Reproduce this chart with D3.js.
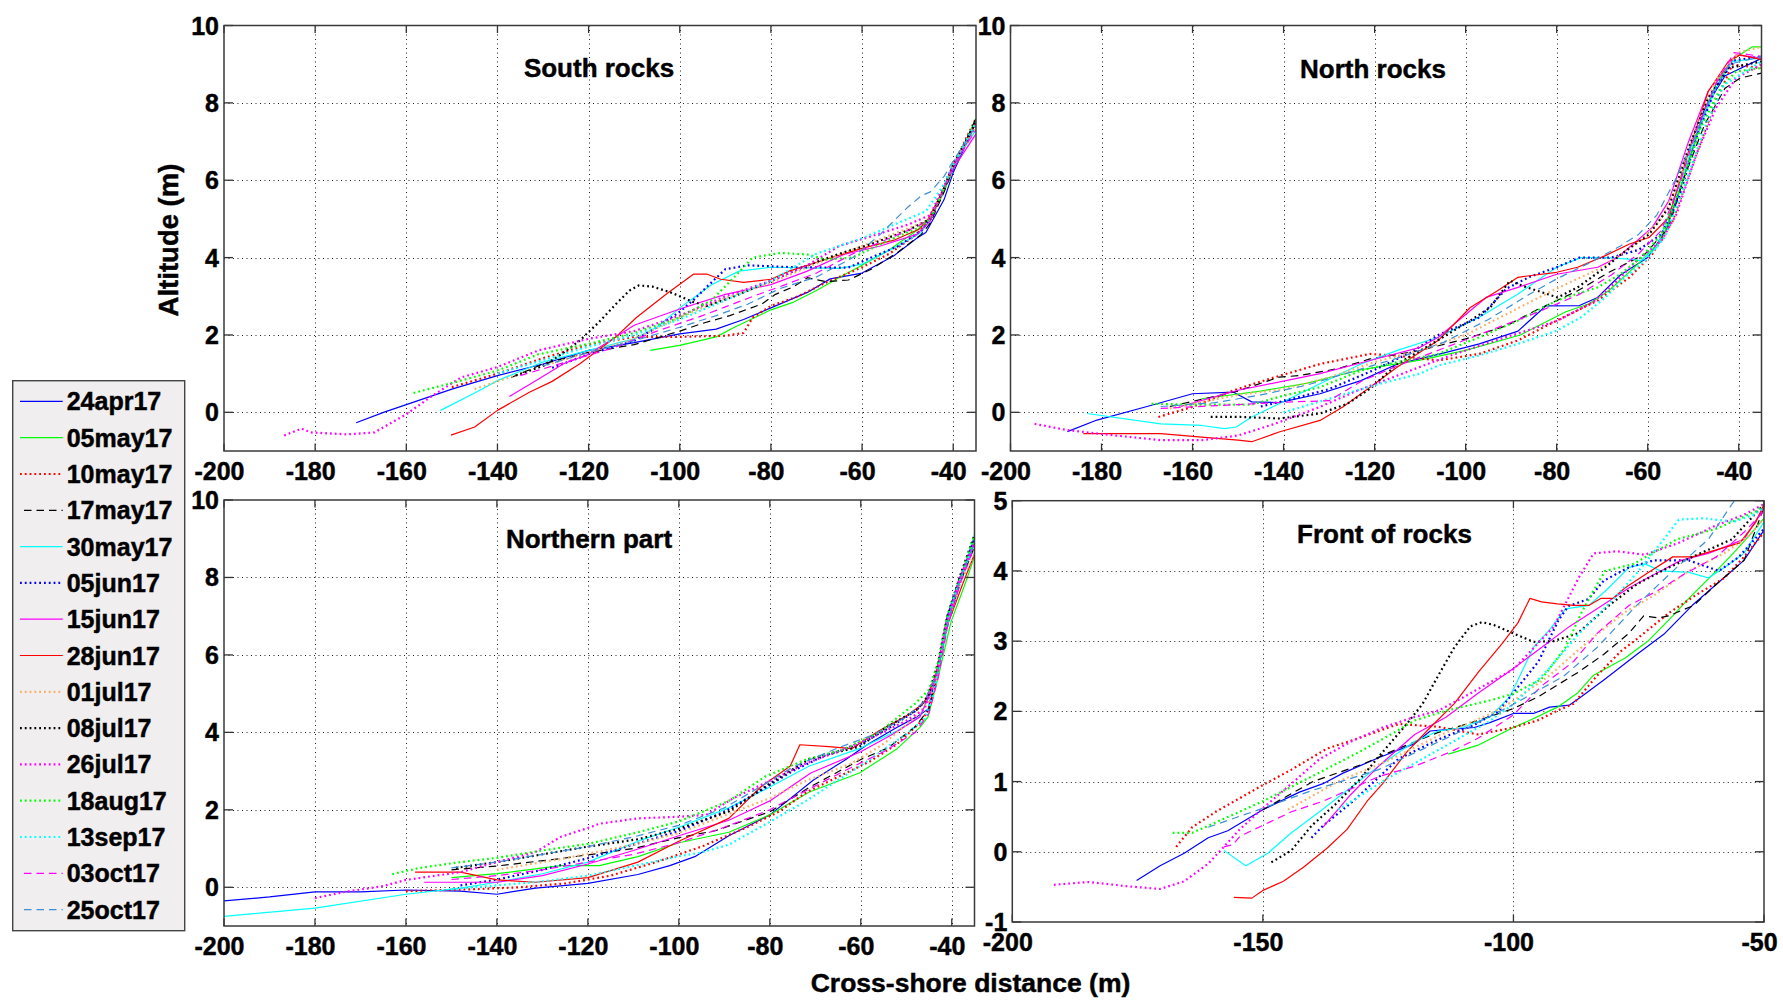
<!DOCTYPE html>
<html><head><meta charset="utf-8">
<script src="https://cdn.jsdelivr.net/npm/d3@7"></script>
<style>
body{margin:0;background:#fff;}
svg{display:block;font-family:"Liberation Sans",Arial,Helvetica,sans-serif;font-weight:bold;}
svg text{stroke:#000;stroke-width:0.45px;}
</style>
</head><body>
<svg id="chart" width="1783" height="1000"></svg>
<script>
// ---------------- DATA ----------------
const seriesLabels = ["24apr17","05may17","10may17","17may17","30may17","05jun17","15jun17","28jun17",
  "01jul17","08jul17","26jul17","18aug17","13sep17","03oct17","25oct17"];
const panelTitles = ["South rocks","North rocks","Northern part","Front of rocks"];
const xTicksMain = [-200,-180,-160,-140,-120,-100,-80,-60,-40];
const yTicksMain = [0,2,4,6,8,10];
const xTicksFront = [-200,-150,-100,-50];
const yTicksFront = [-1,0,1,2,3,4,5];
const xAxisTitle = "Cross-shore distance (m)";
const yAxisTitle = "Altitude (m)";

// Panel 1: South rocks  (one [x, y] list per survey date, same order as seriesLabels)
const southRocks = [
 [[-171,-0.27],[-165,0.0],[-160,0.2],[-150,0.6],[-140,0.95],[-130,1.25],[-120,1.6],[-110,1.8],[-100,2.03],[-92,2.15],[-86,2.4],[-80,2.7],[-72,3.1],[-67,3.45],[-60,3.6],[-53,4.05],[-48,4.5],[-46,4.65],[-42,5.5],[-40,6.2],[-35,7.5]],
 [[-106.5,1.6],[-100,1.73],[-92,1.95],[-88,2.2],[-80,2.65],[-75,2.85],[-70,3.15],[-64,3.55],[-60,3.8],[-54,4.2],[-48,4.7],[-45,5.0],[-42,5.7],[-40,6.3],[-35,7.6]],
 [[-150,0.65],[-140,1.0],[-130,1.4],[-120,1.75],[-110,1.95],[-100,1.95],[-90,1.98],[-86,2.05],[-84,2.45],[-80,2.75],[-74,3.0],[-68,3.35],[-60,3.75],[-54,4.1],[-48,4.6],[-45,5.0],[-42,5.8],[-40,6.4],[-35,7.6]],
 [[-137,0.9],[-130,1.25],[-120,1.55],[-110,1.75],[-100,2.1],[-95,2.3],[-89,2.5],[-82,2.8],[-79,3.05],[-75,3.25],[-72,3.48],[-68,3.38],[-63,3.42],[-58,3.7],[-52,4.15],[-47,4.6],[-45,4.9],[-42,5.7],[-40,6.3],[-35,7.6]],
 [[-152.5,0.05],[-145,0.5],[-140,0.82],[-130,1.3],[-120,1.6],[-110,1.9],[-105,2.2],[-100,2.7],[-93,3.3],[-87,3.65],[-80,3.75],[-65,3.72],[-60,3.83],[-53,4.25],[-47,4.65],[-45,5.0],[-42,5.8],[-40,6.4],[-35,7.3]],
 [[-128,1.15],[-120,1.5],[-110,1.85],[-105,2.2],[-100,2.6],[-97,2.9],[-94,3.25],[-90,3.7],[-85,3.8],[-75,3.75],[-63,3.74],[-58,4.0],[-52,4.3],[-47,4.7],[-45,5.0],[-42,5.8],[-40,6.4],[-35,7.5]],
 [[-137.4,0.41],[-131.5,0.82],[-125.6,1.25],[-120,1.5],[-110,2.25],[-100,2.67],[-90,3.05],[-80,3.3],[-72,3.65],[-64,4.08],[-56,4.3],[-48,4.6],[-45,4.95],[-42,5.8],[-40,6.3],[-35,7.2]],
 [[-150.2,-0.59],[-145,-0.38],[-140,0.05],[-133,0.52],[-128,0.8],[-122,1.25],[-118,1.6],[-114,1.95],[-109.5,2.45],[-103,3.05],[-97,3.57],[-94,3.57],[-91,3.44],[-86,3.36],[-80,3.44],[-76,3.65],[-67,3.99],[-60,4.24],[-53,4.45],[-47.4,4.74],[-45.5,5.0],[-42,5.8],[-40,6.4],[-35,7.5]],
 [[-145,0.6],[-130,1.2],[-120,1.55],[-110,1.9],[-100,2.45],[-90,2.95],[-80,3.35],[-70,3.85],[-60,4.3],[-50,4.75],[-45,5.0],[-42,5.8],[-40,6.4],[-35,7.4]],
 [[-136,0.95],[-130,1.2],[-126,1.5],[-122,1.85],[-118,2.3],[-114,2.8],[-111,3.15],[-109,3.28],[-106,3.25],[-102,3.1],[-97,2.85],[-94,2.75],[-88,3.0],[-80,3.4],[-72,3.8],[-65,4.1],[-58,4.35],[-50,4.7],[-45,5.0],[-42,5.8],[-40,6.4],[-35,7.5]],
 [[-186.8,-0.6],[-183,-0.42],[-181,-0.52],[-173,-0.57],[-167,-0.52],[-160,-0.05],[-154,0.45],[-148,0.9],[-140,1.17],[-131,1.6],[-120,1.9],[-110,2.1],[-100,2.5],[-90,3.0],[-80,3.4],[-72,3.8],[-65,4.3],[-58,4.55],[-50,4.85],[-45,5.1],[-42,5.9],[-40,6.4],[-35,7.4]],
 [[-158.4,0.5],[-148,0.82],[-140,1.08],[-131,1.5],[-120,1.77],[-110,2.05],[-100,2.45],[-93,2.9],[-88,3.5],[-84,4.0],[-78,4.12],[-72,4.08],[-68,3.95],[-62,4.0],[-55,4.4],[-48,4.75],[-45,5.0],[-42,5.8],[-40,6.4],[-35,7.5]],
 [[-140,1.0],[-130,1.35],[-120,1.7],[-110,2.0],[-100,2.4],[-90,2.9],[-80,3.4],[-70,4.1],[-60,4.5],[-52,4.9],[-46,5.2],[-42,5.9],[-40,6.4],[-35,7.5]],
 [[-135,0.95],[-125,1.3],[-115,1.65],[-105,2.1],[-95,2.5],[-85,2.95],[-78,3.25],[-70,3.6],[-62,4.1],[-55,4.45],[-48,4.8],[-45,5.0],[-42,5.8],[-40,6.4],[-35,7.3]],
 [[-130,1.2],[-120,1.55],[-110,1.85],[-100,2.2],[-92,2.5],[-85,2.8],[-78,3.2],[-70,3.5],[-62,4.0],[-56,4.6],[-50,5.3],[-47,5.6],[-45,5.7],[-42,6.1],[-40,6.5],[-35,7.4]]
];

// Panel 2: North rocks
const northRocks = [
 [[-187.5,-0.5],[-181,-0.2],[-170,0.15],[-160,0.48],[-151,0.52],[-147,0.27],[-141,0.25],[-132,0.48],[-123,0.82],[-115,1.25],[-106,1.5],[-97,1.77],[-88.5,2.1],[-82.4,2.75],[-75,2.76],[-71,2.97],[-66,3.55],[-60,4.0],[-56,4.7],[-52,6.1],[-47.5,7.85],[-43,8.7],[-35,9.15]],
 [[-158,0.35],[-145,0.55],[-135,0.75],[-123,1.1],[-110,1.35],[-100,1.6],[-88,2.0],[-78,2.6],[-73,2.8],[-68.5,3.15],[-62,3.85],[-57,4.45],[-53.7,5.45],[-49,7.2],[-45,8.5],[-41,9.15],[-37,9.45],[-35,9.45]],
 [[-167.5,-0.12],[-160,0.14],[-151,0.57],[-143,0.87],[-132,1.25],[-121,1.51],[-114,1.45],[-106,1.34],[-97,1.51],[-88.5,1.86],[-80,2.37],[-71,2.89],[-64,3.49],[-59,4.09],[-54.5,4.95],[-49.3,6.67],[-45,8.04],[-41.4,8.99],[-35,8.9]],
 [[-165,0.15],[-150,0.55],[-141,0.91],[-136.5,0.95],[-128,1.13],[-121,1.38],[-110,1.6],[-100,1.9],[-91,2.24],[-84,2.67],[-75.4,3.14],[-68.5,3.62],[-60.6,4.09],[-55.4,4.78],[-52,6.07],[-47.5,7.44],[-43,8.38],[-39.7,8.64],[-35,8.77]],
 [[-183.2,-0.03],[-167,-0.3],[-158,-0.34],[-153,-0.42],[-150.4,-0.38],[-147,-0.12],[-141,0.22],[-132,0.74],[-123,1.25],[-115,1.6],[-106,1.94],[-97,2.46],[-88.5,3.06],[-80,3.75],[-74.6,4.0],[-69,4.0],[-64,3.96],[-61.5,3.92],[-58,4.26],[-53.7,5.64],[-49.3,7.18],[-45,8.38],[-41.4,9.07],[-35,9.16]],
 [[-145,0.15],[-138,0.35],[-130,0.6],[-120,1.1],[-112,1.55],[-106,2.0],[-97,2.45],[-91,3.2],[-86,3.5],[-80,3.75],[-75,4.0],[-68,4.0],[-62,4.2],[-57,4.6],[-53,5.6],[-49,7.2],[-45,8.4],[-41,9.1],[-35,9.2]],
 [[-163,0.14],[-150,0.57],[-132,1.0],[-121,1.34],[-110,1.68],[-106,1.94],[-95.5,2.97],[-88.5,3.23],[-80,3.57],[-71,3.75],[-66.7,4.0],[-62.4,4.43],[-59,4.78],[-55.4,5.46],[-51,7.01],[-46.7,8.3],[-40.6,9.24],[-35,9.16]],
 [[-184,-0.55],[-167,-0.55],[-158,-0.64],[-150,-0.72],[-147,-0.76],[-141,-0.51],[-132,-0.21],[-127,0.14],[-121,0.65],[-115,1.17],[-106,1.86],[-99,2.71],[-93,3.14],[-88.5,3.49],[-86,3.53],[-80,3.62],[-75.4,3.75],[-69.3,4.05],[-64,4.35],[-59.7,4.52],[-55.4,5.03],[-51,6.75],[-46.7,8.3],[-42.3,9.07],[-39.7,9.24],[-35,9.12]],
 [[-165,0.1],[-150,0.45],[-140,0.6],[-130,0.9],[-120,1.3],[-110,1.6],[-100,2.0],[-90,2.6],[-80,3.2],[-70,3.75],[-62,4.4],[-57,5.0],[-53,6.0],[-49,7.5],[-45,8.6],[-40,9.3],[-35,9.45]],
 [[-156,-0.12],[-149.5,-0.12],[-141,-0.16],[-132,-0.03],[-126,0.22],[-121,0.61],[-115,1.25],[-107,1.8],[-99,2.37],[-94.6,2.71],[-90.3,3.4],[-87,3.25],[-84.2,3.14],[-79.8,2.97],[-75.4,3.23],[-69.3,3.75],[-65.8,4.09],[-59.7,4.6],[-55.4,5.29],[-51,6.84],[-46.7,8.13],[-42.3,8.9],[-35,9.07]],
 [[-194.7,-0.3],[-187.5,-0.46],[-177,-0.6],[-167,-0.72],[-158,-0.72],[-150,-0.6],[-142,-0.3],[-132,0.14],[-124,0.55],[-115,0.95],[-105,1.4],[-95,1.8],[-84.2,2.2],[-79.8,2.37],[-72,2.85],[-66.7,3.4],[-62.4,3.92],[-57,4.43],[-53.7,5.12],[-49.3,6.67],[-45,7.87],[-40.6,8.64],[-35,8.99]],
 [[-169,0.22],[-160,0.2],[-147,0.2],[-141,0.4],[-132,0.65],[-123,1.08],[-115,1.3],[-106,1.51],[-97,1.94],[-88.5,2.37],[-80,2.89],[-71,3.23],[-66,3.57],[-61.5,4.0],[-57,4.6],[-52.8,5.8],[-48.4,7.35],[-44,8.38],[-40.6,8.81],[-35,8.9]],
 [[-140,0.0],[-130,0.35],[-120,0.7],[-110,1.0],[-106,1.21],[-97,1.47],[-88.5,1.77],[-80,2.11],[-74.6,2.46],[-69.3,2.97],[-65,3.49],[-60.6,3.92],[-56.3,4.52],[-52,5.8],[-47.5,7.35],[-43.2,8.47],[-35,9.07]],
 [[-167,0.1],[-150,0.2],[-138,0.27],[-130,0.3],[-123,0.8],[-115,1.2],[-105,1.65],[-95,2.1],[-85,2.55],[-75,3.05],[-68,3.55],[-62,4.1],[-57,4.7],[-53,5.9],[-49,7.4],[-45,8.5],[-41,9.3],[-35,9.2]],
 [[-167,0.15],[-155,0.25],[-145,0.45],[-135,0.7],[-125,1.05],[-115,1.4],[-105,1.8],[-95,2.4],[-86,3.05],[-80,3.45],[-73,3.85],[-66,4.3],[-62,4.6],[-58,5.1],[-54,6.0],[-50,7.0],[-46,8.2],[-42,9.0],[-35,9.2]]
];

// Panel 3: Northern part
const northernPart = [
 [[-200,-0.35],[-190,-0.25],[-180,-0.12],[-170,-0.12],[-160,-0.07],[-148,-0.1],[-140,-0.18],[-131.5,-0.02],[-120,0.1],[-109,0.33],[-102,0.56],[-96.5,0.79],[-89,1.33],[-80,1.87],[-70.4,2.77],[-63.7,3.27],[-58.6,3.68],[-52,4.13],[-47.7,4.4],[-45.2,4.6],[-42.7,5.84],[-41,7.0],[-38.5,7.9],[-35,8.9]],
 [[-150,0.25],[-140,0.35],[-126,0.56],[-117.5,0.56],[-109,0.79],[-100,1.15],[-89,1.42],[-80,1.87],[-71.3,2.46],[-60.3,2.95],[-52,3.58],[-47,4.13],[-45.2,4.4],[-42.7,5.57],[-40.2,6.84],[-36.8,7.92],[-35,8.55]],
 [[-160,-0.1],[-145,-0.05],[-135,0.0],[-125,0.1],[-115,0.3],[-105,0.65],[-95,1.05],[-85,1.55],[-78,1.95],[-72,2.45],[-65,2.85],[-58,3.25],[-52,3.7],[-47,4.25],[-45,4.6],[-43,5.6],[-41,6.8],[-38,8.0],[-35,9.0]],
 [[-150,0.45],[-140,0.55],[-126,0.74],[-110,1.0],[-100,1.28],[-92,1.46],[-80,1.95],[-71,2.6],[-60,3.3],[-54,3.6],[-48,4.15],[-45,4.6],[-43,5.6],[-41,6.8],[-38,7.9],[-35,8.8]],
 [[-200,-0.75],[-180,-0.54],[-160,-0.18],[-148,-0.02],[-140,0.13],[-130,0.35],[-120,0.65],[-109,1.19],[-100,1.55],[-89,2.05],[-80,2.59],[-71.3,3.13],[-60.3,3.58],[-52,4.04],[-47,4.4],[-43.5,5.39],[-41,6.9],[-38,8.0],[-35,9.1]],
 [[-148,0.05],[-140,0.2],[-130,0.45],[-120,0.75],[-110,1.1],[-100,1.45],[-90,1.95],[-82,2.5],[-75,3.0],[-68,3.4],[-60,3.7],[-54,4.1],[-48,4.55],[-45,4.9],[-43,5.7],[-41,6.9],[-38,8.0],[-35,9.0]],
 [[-156,0.13],[-140,0.13],[-130,0.3],[-120,0.6],[-110,0.95],[-100,1.33],[-89,1.73],[-80,2.23],[-71,2.95],[-60,3.5],[-53,3.95],[-47,4.4],[-44,5.2],[-41.5,6.7],[-38,8.0],[-35,8.9]],
 [[-158,0.39],[-148,0.39],[-140,0.19],[-131.5,0.13],[-120,0.25],[-109,0.65],[-100,1.19],[-89,1.78],[-82,2.59],[-75.5,3.13],[-73.4,3.68],[-67,3.63],[-62,3.58],[-56,4.04],[-50.3,4.4],[-46.1,4.76],[-43.5,5.48],[-41,6.75],[-37.6,7.83],[-35,8.6]],
 [[-140,0.45],[-125,0.75],[-110,1.1],[-100,1.4],[-90,1.85],[-80,2.3],[-72,2.75],[-62,3.2],[-55,3.7],[-48,4.4],[-45,4.8],[-43,5.6],[-41,6.8],[-38,7.9],[-35,8.6]],
 [[-149,0.5],[-140,0.65],[-127,0.91],[-120,1.05],[-109,1.24],[-100,1.51],[-89,1.96],[-80,2.68],[-71.3,3.31],[-60.3,3.63],[-54.4,4.13],[-47.7,4.58],[-45.2,4.94],[-43,5.8],[-41,7.0],[-38,8.1],[-35,9.1]],
 [[-180,-0.28],[-173.5,-0.12],[-165,0.03],[-160,0.19],[-148,0.39],[-140,0.65],[-131.5,0.91],[-126,1.3],[-120,1.53],[-117.5,1.64],[-109,1.78],[-100,1.82],[-94,1.87],[-88,2.3],[-80,2.75],[-72,3.2],[-64,3.55],[-56,3.95],[-50,4.3],[-46,4.6],[-43,5.6],[-41,6.8],[-38.5,7.9],[-35,8.9]],
 [[-163,0.34],[-157,0.5],[-148,0.65],[-140,0.76],[-130,0.95],[-120,1.12],[-109,1.42],[-100,1.7],[-89,2.23],[-81,2.86],[-72,3.3],[-64,3.55],[-56,4.0],[-48,4.75],[-45,5.1],[-43,5.8],[-41,7.0],[-38,8.0],[-35,9.1]],
 [[-150,-0.05],[-140,0.05],[-130,0.15],[-120,0.3],[-110,0.55],[-100,0.8],[-95,0.9],[-89,1.1],[-80,1.69],[-72,2.23],[-65,2.77],[-59,3.22],[-53.6,3.67],[-50,3.95],[-46,4.35],[-44,5.0],[-42,6.2],[-39.5,7.5],[-35,8.9]],
 [[-150,0.2],[-140,0.3],[-130,0.45],[-120,0.65],[-110,0.85],[-100,1.15],[-90,1.55],[-80,2.0],[-72,2.5],[-62,3.1],[-55,3.5],[-48,4.0],[-45,4.5],[-43,5.4],[-41,6.7],[-38,7.9],[-35,8.8]],
 [[-150,0.5],[-140,0.65],[-130,0.85],[-120,1.05],[-110,1.3],[-100,1.6],[-90,2.05],[-82,2.6],[-75,3.1],[-65,3.6],[-57,3.95],[-50,4.4],[-46,4.8],[-43,5.6],[-41,6.8],[-38,8.0],[-35,8.9]]
];

// Panel 4: Front of rocks
const frontOfRocks = [
 [[-175.2,-0.41],[-170.5,-0.2],[-165.7,-0.02],[-160.9,0.2],[-157,0.3],[-150,0.6],[-142.7,0.85],[-138,0.97],[-134,1.12],[-126.9,1.34],[-119.7,1.54],[-116.6,1.72],[-113.4,1.74],[-107.8,1.77],[-104.7,1.84],[-100,1.97],[-96,1.97],[-92.8,2.06],[-88.8,2.09],[-86.4,2.21],[-81.7,2.46],[-75.4,2.81],[-69.8,3.11],[-64.3,3.51],[-59.5,3.81],[-54,4.15],[-50,4.58]],
 [[-113,1.39],[-107,1.52],[-100,1.77],[-96.8,1.87],[-91.2,2.06],[-87.2,2.26],[-84.1,2.51],[-77.7,2.76],[-73,3.01],[-68.2,3.36],[-65,3.61],[-59.5,4.0],[-55.5,4.3],[-52.4,4.55],[-50,4.75]],
 [[-167.3,0.07],[-164.1,0.35],[-159.4,0.57],[-150,0.95],[-144.3,1.17],[-137.2,1.47],[-130.8,1.62],[-122.9,1.82],[-115,1.78],[-107,1.67],[-100,1.77],[-95.2,1.87],[-91.2,2.01],[-88,2.11],[-83.3,2.51],[-78.5,2.86],[-75.4,3.03],[-69,3.4],[-63.5,3.66],[-57.9,3.9],[-54,4.2],[-50,4.55]],
 [[-150,0.6],[-140,1.0],[-130,1.25],[-123,1.47],[-115,1.7],[-107,1.87],[-100,2.04],[-95,2.21],[-87,2.56],[-82,2.81],[-77,3.11],[-74,3.36],[-71,3.33],[-69,3.36],[-64,3.51],[-59.5,3.81],[-54,4.15],[-50,4.9]],
 [[-157.8,0.02],[-153.4,-0.2],[-149,-0.02],[-144.3,0.27],[-138.7,0.57],[-132.4,0.92],[-126.9,1.22],[-119.7,1.57],[-115,1.72],[-110.2,1.77],[-104.7,1.92],[-100.7,2.21],[-96,2.91],[-92.8,3.16],[-89.6,3.46],[-84.9,3.51],[-81.7,3.71],[-76.9,4.05],[-73.8,4.1],[-70.6,4.0],[-65,3.98],[-61.1,3.9],[-57.9,4.05],[-54,4.25],[-50,4.7]],
 [[-140.3,0.2],[-138,0.37],[-132,0.72],[-123,1.32],[-115,1.6],[-108,1.8],[-103,2.0],[-95,2.71],[-91,3.3],[-89,3.5],[-85,3.6],[-82,3.86],[-77,4.05],[-72,4.15],[-65,4.15],[-59,4.0],[-55,4.2],[-50,4.6]],
 [[-138,0.35],[-132.4,0.82],[-126.9,1.22],[-119.7,1.67],[-113.4,1.92],[-107,2.26],[-100,2.61],[-94.4,2.91],[-88.8,3.21],[-83.3,3.46],[-76.9,3.76],[-70.6,4.0],[-66.6,4.15],[-61.1,4.25],[-54,4.45],[-50,4.9]],
 [[-155.8,-0.65],[-152.2,-0.66],[-150,-0.55],[-145.9,-0.42],[-141.9,-0.22],[-137.2,0.05],[-133.2,0.32],[-129.2,0.72],[-126.1,0.97],[-121.3,1.42],[-116.6,1.77],[-111.8,2.11],[-107,2.56],[-102.3,2.96],[-99.1,3.26],[-96.7,3.61],[-94.4,3.56],[-91.2,3.53],[-88,3.51],[-84.9,3.51],[-82.5,3.61],[-80.1,3.61],[-77.7,3.76],[-73,3.98],[-68.2,4.2],[-64.3,4.2],[-59.5,4.3],[-54.8,4.4],[-51.6,4.7],[-50,4.95]],
 [[-145,0.6],[-135,1.0],[-125,1.3],[-115,1.65],[-105,1.95],[-100,2.15],[-93,2.5],[-85,3.0],[-78,3.4],[-72,3.65],[-65,4.0],[-58,4.25],[-53,4.5],[-50,4.75]],
 [[-148.3,-0.15],[-144.3,0.02],[-140.3,0.37],[-135.6,0.67],[-130.8,1.02],[-126.1,1.42],[-121.3,1.82],[-118.1,2.11],[-115,2.51],[-111.8,2.91],[-108.6,3.21],[-106.3,3.27],[-103.9,3.23],[-100,3.11],[-96,2.99],[-92,3.0],[-87.2,3.11],[-80.9,3.51],[-75.4,3.81],[-69,4.05],[-62.7,4.25],[-56.4,4.45],[-50,4.95]],
 [[-191.7,-0.47],[-184.8,-0.43],[-177.2,-0.49],[-170.5,-0.53],[-165.7,-0.42],[-160.9,-0.17],[-157.8,0.07],[-154.6,0.32],[-150,0.62],[-144.3,0.97],[-138.7,1.32],[-132.4,1.57],[-126.1,1.77],[-119.7,1.92],[-115,2.01],[-110,2.2],[-100,2.6],[-92,3.2],[-87,3.9],[-84,4.25],[-79.3,4.28],[-73.8,4.23],[-67,4.4],[-59.5,4.65],[-54,4.8],[-50,4.95]],
 [[-168,0.27],[-164.1,0.27],[-160.9,0.37],[-150,0.72],[-140.3,1.07],[-130.8,1.42],[-124.5,1.67],[-119.7,1.87],[-113.4,2.01],[-105,2.15],[-100,2.25],[-94.4,2.46],[-89.6,2.91],[-86.4,3.41],[-83.3,3.81],[-81.7,4.0],[-76,4.1],[-67.4,4.45],[-59.5,4.6],[-51.6,4.85],[-50,4.93]],
 [[-135,0.6],[-125,1.05],[-115,1.45],[-105,1.85],[-100,2.1],[-93,2.6],[-87,3.1],[-80,3.6],[-75,4.0],[-70,4.45],[-67,4.73],[-62,4.75],[-56,4.7],[-52,4.8],[-50,4.9]],
 [[-157.8,0.07],[-156,0.1],[-154.6,0.22],[-144.3,0.57],[-138,0.72],[-126.9,1.07],[-119.7,1.22],[-112.6,1.42],[-107,1.62],[-100,1.95],[-94.4,2.36],[-88,2.71],[-83.3,3.11],[-76.9,3.51],[-71.4,3.71],[-65.8,3.96],[-59.5,4.2],[-54,4.55],[-50,4.85]],
 [[-160.9,0.35],[-150,0.62],[-140.3,0.87],[-126.9,1.17],[-111.8,1.67],[-100,2.1],[-90,2.5],[-83.3,2.91],[-75.4,3.51],[-67.4,4.05],[-61.1,4.45],[-56.4,4.95],[-54.8,5.1]]
];

// ---------------- STYLES / LAYOUT ----------------
const lineStyles = [
 {c:"#0000ff", d:null}, {c:"#00ff00", d:null}, {c:"#ff0000", d:"dot"}, {c:"#000000", d:"dash"},
 {c:"#00ffff", d:null}, {c:"#0000ff", d:"dot"}, {c:"#ff00ff", d:null}, {c:"#ff0000", d:null},
 {c:"#f7b06a", d:"dot"}, {c:"#000000", d:"dot"}, {c:"#ff00ff", d:"dot"}, {c:"#00ff00", d:"dot"},
 {c:"#00ffff", d:"dot"}, {c:"#ff00ff", d:"dash"}, {c:"#3d8fd8", d:"dash"}
];
function applyStyle(sel, st){
  sel.attr("stroke", st.c).attr("fill","none");
  if (st.d === "dot") sel.attr("stroke-width", 2.2).attr("stroke-dasharray","1.8,3");
  else if (st.d === "dash") sel.attr("stroke-width", 1.2).attr("stroke-dasharray","7.5,5");
  else sel.attr("stroke-width", 1.2);
}

const panels = [
 {data: southRocks,  title: panelTitles[0], x0:224,    x1:976,    y0:25.5, y1:451, xd:[-200,-35], yd:[-1,10], xt:xTicksMain, yt:yTicksMain, tx:599, ty:67},
 {data: northRocks,  title: panelTitles[1], x0:1010.5, x1:1761.5, y0:25.5, y1:451, xd:[-200,-35], yd:[-1,10], xt:xTicksMain, yt:yTicksMain, tx:1373, ty:68},
 {data: northernPart,title: panelTitles[2], x0:224,    x1:974.5,  y0:500,  y1:926, xd:[-200,-35], yd:[-1,10], xt:xTicksMain, yt:yTicksMain, tx:589, ty:538},
 {data: frontOfRocks,title: panelTitles[3], x0:1012.3, x1:1764,   y0:500.7,y1:922, xd:[-200,-50], yd:[-1,5],  xt:xTicksFront, yt:yTicksFront, tx:1384.5, ty:533}
];

const svg = d3.select("#chart");
svg.append("rect").attr("width",1783).attr("height",1000).attr("fill","#fff");
const defs = svg.append("defs");

panels.forEach((p, pi) => {
  const x = d3.scaleLinear().domain(p.xd).range([p.x0, p.x1]);
  const y = d3.scaleLinear().domain(p.yd).range([p.y1, p.y0]);
  const g = svg.append("g");
  defs.append("clipPath").attr("id","clip"+pi).append("rect")
    .attr("x",p.x0).attr("y",p.y0).attr("width",p.x1-p.x0).attr("height",p.y1-p.y0);

  // grid
  const grid = g.append("g").attr("stroke","#222").attr("stroke-width",1).attr("stroke-dasharray","1,3.5");
  p.xt.forEach(t => { const px = Math.round(x(t))+0.5; if (px > p.x0+2 && px < p.x1-2)
    grid.append("line").attr("x1",px).attr("x2",px).attr("y1",p.y0).attr("y2",p.y1); });
  p.yt.forEach(t => { const py = Math.round(y(t))+0.5; if (py > p.y0+2 && py < p.y1-2)
    grid.append("line").attr("x1",p.x0).attr("x2",p.x1).attr("y1",py).attr("y2",py); });

  // lines
  const line = d3.line().x(d => x(d[0])).y(d => y(d[1]));
  const lg = g.append("g").attr("clip-path","url(#clip"+pi+")");
  p.data.forEach((s, si) => {
    const path = lg.append("path").datum(s).attr("d", line).attr("stroke-linejoin","round");
    applyStyle(path, lineStyles[si]);
  });

  // ticks (inward, all four sides)
  const tk = g.append("g").attr("stroke","#333").attr("stroke-width",1.3);
  p.xt.forEach(t => { const px = x(t);
    tk.append("line").attr("x1",px).attr("x2",px).attr("y1",p.y1).attr("y2",p.y1-7.5);
    tk.append("line").attr("x1",px).attr("x2",px).attr("y1",p.y0).attr("y2",p.y0+7.5); });
  p.yt.forEach(t => { const py = y(t);
    tk.append("line").attr("x1",p.x0).attr("x2",p.x0+9).attr("y1",py).attr("y2",py);
    tk.append("line").attr("x1",p.x1).attr("x2",p.x1-9).attr("y1",py).attr("y2",py); });

  // box
  g.append("rect").attr("x",p.x0).attr("y",p.y0).attr("width",p.x1-p.x0).attr("height",p.y1-p.y0)
    .attr("fill","none").attr("stroke","#3a3a3a").attr("stroke-width",1.5);

  // tick labels
  const lab = g.append("g").attr("font-size",25).attr("fill","#000");
  p.xt.forEach(t => lab.append("text").attr("x", x(t)-4.5).attr("y", p.y1+28.5)
    .attr("text-anchor","middle").text(t));
  p.yt.forEach(t => lab.append("text").attr("x", p.x0-5).attr("y", y(t)+9)
    .attr("text-anchor","end").text(t));

  // title
  g.append("text").attr("x",p.tx).attr("y",p.ty+9.5).attr("text-anchor","middle")
    .attr("font-size",26).text(p.title);
});

// axis titles
svg.append("text").attr("x",970.5).attr("y",992).attr("text-anchor","middle")
  .attr("font-size",26.5).text(xAxisTitle);
svg.append("text").attr("transform","translate(178,240) rotate(-90)").attr("text-anchor","middle")
  .attr("font-size",27.5).text(yAxisTitle);

// legend
const leg = svg.append("g");
leg.append("rect").attr("x",12.7).attr("y",380.7).attr("width",172).attr("height",550)
  .attr("fill","#f0eeee").attr("stroke","#444").attr("stroke-width",1.4);
seriesLabels.forEach((lbl, i) => {
  const yy = 401.4 + i*36.3;
  const st = lineStyles[i];
  const x0 = st.d === "dash" ? 24 : 20;
  const l = leg.append("line").attr("x1",x0).attr("x2",62.7).attr("y1",yy).attr("y2",yy);
  applyStyle(l, st);
  leg.append("text").attr("x",66.7).attr("y",yy+9).attr("font-size",25).text(lbl);
});
</script>
</body></html>
